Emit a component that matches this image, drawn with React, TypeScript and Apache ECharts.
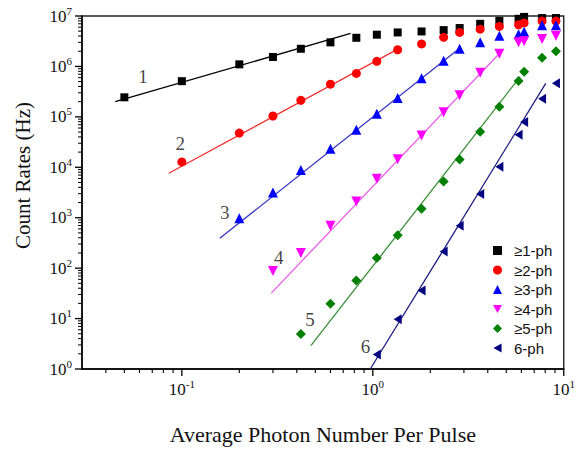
import React, { useEffect, useRef } from "react";
import * as echarts from "echarts";

// ---- data ----
const ph1X = [0.05, 0.1, 0.2, 0.3, 0.42, 0.6, 0.82, 1.05, 1.35, 1.8, 2.35, 2.85, 3.65, 4.6, 5.8, 6.2, 7.7, 9.1];
const ph1Y = [2.44e5, 5.1e5, 1.1e6, 1.54e6, 2.24e6, 3.0e6, 3.7e6, 4.26e6, 4.72e6, 4.94e6, 5.25e6, 5.77e6, 7.0e6, 8.0e6, 8.8e6, 9.6e6, 9.1e6, 9.1e6];

const ph2X = [0.1, 0.2, 0.3, 0.42, 0.6, 0.82, 1.05, 1.35, 1.8, 2.35, 2.85, 3.65, 4.6, 5.8, 6.2, 7.7, 9.1];
const ph2Y = [1.28e4, 4.77e4, 1.04e5, 2.13e5, 4.44e5, 7.25e5, 1.26e6, 2.14e6, 2.79e6, 3.78e6, 4.72e6, 5.48e6, 6.2e6, 6.7e6, 7.3e6, 7.94e6, 7.94e6];

const ph3X = [0.2, 0.3, 0.42, 0.6, 0.82, 1.05, 1.35, 1.8, 2.35, 2.85, 3.65, 4.6, 5.8, 6.2, 7.7, 9.1];
const ph3Y = [9.8e2, 3.18e3, 8.8e3, 2.32e4, 5.56e4, 1.15e5, 2.37e5, 5.8e5, 1.29e6, 2.23e6, 3.0e6, 4.05e6, 4.37e6, 4.85e6, 6.56e6, 6.56e6];

const ph4X = [0.3, 0.42, 0.6, 0.82, 1.05, 1.35, 1.8, 2.35, 2.85, 3.65, 4.6, 5.8, 6.2, 7.7, 9.1];
const ph4Y = [88, 200, 690, 2.1e3, 5.9e3, 1.44e4, 4.25e4, 1.24e5, 2.67e5, 7.5e5, 1.78e6, 3.0e6, 3.15e6, 3.5e6, 4.07e6];

const ph5X = [0.42, 0.6, 0.82, 1.05, 1.35, 1.8, 2.35, 2.85, 3.65, 4.6, 5.8, 6.2, 7.7, 9.1];
const ph5Y = [4.97, 19.7, 56.8, 158, 450, 1.5e3, 5.2e3, 1.42e4, 5.08e4, 1.58e5, 5.13e5, 7.85e5, 1.49e6, 2.01e6];

const ph6X = [1.05, 1.35, 1.8, 2.35, 2.85, 3.65, 4.6, 5.8, 6.2, 7.7, 9.1];
const ph6Y = [1.94, 9.7, 36, 215, 692, 2.95e3, 1.02e4, 4.44e4, 7.94e4, 2.29e5, 4.64e5];

// fit lines (two end points each)
const fit1X = [0.0448, 0.765];
const fit1Y = [2.0e5, 4.5e6];
const fit2X = [0.0854, 1.35];
const fit2Y = [7.6e3, 2.2e6];
const fit3X = [0.158, 2.85];
const fit3Y = [390, 2.3e6];
const fit4X = [0.294, 4.6];
const fit4Y = [32, 1.8e6];
const fit5X = [0.474, 5.9];
const fit5Y = [2.9, 6.2e5];
const fit6X = [0.97, 8.05];
const fit6Y = [1.0, 4.6e5];

// curve number annotations
const curveLabels = ["1", "2", "3", "4", "5", "6"];
const curveLabelX = [0.0626, 0.098, 0.168, 0.322, 0.469, 0.916];
const curveLabelY = [6.35e5, 2.91e4, 1.26e3, 165, 9.7, 2.8];

const seriesNames = ["≥1-ph", "≥2-ph", "≥3-ph", "≥4-ph", "≥5-ph", "6-ph"];

// axis ranges and ticks
const xMin = 0.03;
const xMax = 10;
const yMin = 1;
const yMax = 1e7;
const xMajorTicks = [0.1, 1, 10];
const yMajorTicks = [1, 10, 100, 1e3, 1e4, 1e5, 1e6, 1e7];
const minorMult = [2, 3, 4, 5, 6, 7, 8, 9];
const xDecades = [0.01, 0.1, 1];
const yDecades = [1, 10, 100, 1e3, 1e4, 1e5, 1e6];

const SERIF = "'Liberation Serif', 'Times New Roman', serif";
const SANS = "'Liberation Sans', Arial, sans-serif";

function pairs(xs: number[], ys: number[]) {
  return xs.map((x, i) => [x, ys[i]]);
}

function minorTicks(decades: number[], lo: number, hi: number) {
  const out: number[] = [];
  decades.forEach((d) => minorMult.forEach((m) => {
    const v = m * d;
    if (v > lo * 1.0001 && v < hi * 0.9999) out.push(v);
  }));
  return out;
}

const supFormatter = (v: number) => `{b|10}{s|${Math.round(Math.log10(v))}}`;
const supRich = {
  b: { fontFamily: SERIF, fontSize: 17, color: "#111", lineHeight: 22 },
  s: { fontFamily: SERIF, fontSize: 11, color: "#111", lineHeight: 11, verticalAlign: "top" },
};

export default function App() {
  const ref = useRef<HTMLDivElement>(null);
  useEffect(() => {
    document.body.style.margin = "0";
    if (!ref.current) return;
    const chart = echarts.init(ref.current, undefined, { renderer: "svg" });

    const markerDefs = [
      { x: ph1X, y: ph1Y, symbol: "rect", size: 8, color: "#000000" },
      { x: ph2X, y: ph2Y, symbol: "circle", size: 9, color: "#ff0000" },
      { x: ph3X, y: ph3Y, symbol: "triangle", size: 10, color: "#0000ff" },
      { x: ph4X, y: ph4Y, symbol: "path://M0,0 L10,0 L5,9 Z", size: 10, color: "#ff00ff" },
      { x: ph5X, y: ph5Y, symbol: "diamond", size: 10, color: "#008000" },
      { x: ph6X, y: ph6Y, symbol: "path://M0,5 L9,0 L9,10 Z", size: [8, 10], color: "#000080" },
    ];
    const fitDefs = [
      { x: fit1X, y: fit1Y, color: "#000000" },
      { x: fit2X, y: fit2Y, color: "#f03030" },
      { x: fit3X, y: fit3Y, color: "#3535c0" },
      { x: fit4X, y: fit4Y, color: "#e860e8" },
      { x: fit5X, y: fit5Y, color: "#3a8f3a" },
      { x: fit6X, y: fit6Y, color: "#1c1c80" },
    ];

    const series: any[] = [];

    // axis tick marks drawn through the axes' own scales
    const xTickData = [
      ...xMajorTicks.map((v) => [v, yMin, 7]),
      ...minorTicks(xDecades, xMin, xMax).map((v) => [v, yMin, 4]),
    ];
    const yTickData = [
      ...yMajorTicks.map((v) => [xMin, v, 7]),
      ...minorTicks(yDecades, yMin, yMax).map((v) => [xMin, v, 4]),
    ];
    series.push({
      type: "custom",
      name: "xticks",
      silent: true,
      clip: false,
      z: 5,
      encode: { x: 0, y: 1 },
      data: xTickData,
      renderItem: (params: any, api: any) => {
        const p = api.coord([api.value(0), api.value(1)]);
        const len = api.value(2);
        return {
          type: "line",
          shape: { x1: p[0], y1: p[1], x2: p[0], y2: p[1] + len },
          style: { stroke: "#000", lineWidth: len > 5 ? 1.3 : 1.1 },
        };
      },
    });
    series.push({
      type: "custom",
      name: "yticks",
      silent: true,
      clip: false,
      z: 5,
      encode: { x: 0, y: 1 },
      data: yTickData,
      renderItem: (params: any, api: any) => {
        const p = api.coord([api.value(0), api.value(1)]);
        const len = api.value(2);
        return {
          type: "line",
          shape: { x1: p[0], y1: p[1], x2: p[0] - len, y2: p[1] },
          style: { stroke: "#000", lineWidth: len > 5 ? 1.3 : 1.0 },
        };
      },
    });

    fitDefs.forEach((f, i) => {
      series.push({
        type: "line",
        name: "fit" + (i + 1),
        data: pairs(f.x, f.y),
        showSymbol: false,
        symbol: "none",
        lineStyle: { color: f.color, width: 1.3 },
        itemStyle: { color: f.color },
        silent: true,
        z: 2,
      });
    });
    markerDefs.forEach((m, i) => {
      series.push({
        type: "scatter",
        name: seriesNames[i],
        data: pairs(m.x, m.y),
        symbol: m.symbol,
        symbolSize: m.size,
        itemStyle: { color: m.color, opacity: 1 },
        z: 3,
      });
    });
    series.push({
      type: "scatter",
      name: "labels",
      data: curveLabelX.map((x, i) => ({ value: [x, curveLabelY[i]], name: curveLabels[i] })),
      symbol: "circle",
      symbolSize: 1,
      itemStyle: { color: "rgba(0,0,0,0)" },
      label: {
        show: true,
        position: "inside",
        formatter: (p: any) => p.name,
        fontFamily: SERIF,
        fontSize: 19,
        color: "#111",
      },
      silent: true,
      z: 4,
    });

    const option: any = {
      animation: false,
      backgroundColor: "#ffffff",
      grid: {
        left: 82,
        right: 10,
        top: 16,
        bottom: 74,
        show: true,
        borderColor: "#222",
        borderWidth: 1.4,
        backgroundColor: "transparent",
      },
      legend: {
        data: seriesNames,
        orient: "vertical",
        left: 488,
        top: 238,
        itemWidth: 9,
        itemHeight: 9,
        itemGap: 4.5,
        textStyle: {
          fontFamily: SANS,
          fontSize: 15,
          color: "#111",
          lineHeight: 15,
          padding: [0, 0, 0, 7],
        },
      },
      xAxis: {
        type: "log",
        logBase: 10,
        min: xMin,
        max: xMax,
        position: "bottom",
        name: "Average Photon Number Per Pulse",
        nameLocation: "middle",
        nameGap: 54,
        nameTextStyle: { fontFamily: SERIF, fontSize: 22, color: "#111" },
        axisLine: { onZero: false, lineStyle: { color: "#000", width: 1.5 } },
        axisTick: { show: false },
        splitLine: { show: false },
        axisLabel: { showMinLabel: false, margin: 9, formatter: supFormatter, rich: supRich },
      },
      yAxis: {
        type: "log",
        logBase: 10,
        min: yMin,
        max: yMax,
        position: "left",
        name: "Count Rates (Hz)",
        nameLocation: "middle",
        nameGap: 49,
        nameTextStyle: { fontFamily: SERIF, fontSize: 21, color: "#111", padding: [0, 0, 0, 34] },
        axisLine: { onZero: false, lineStyle: { color: "#000", width: 1.5 } },
        axisTick: { show: false },
        splitLine: { show: false },
        axisLabel: { margin: 10, formatter: supFormatter, rich: supRich },
      },
      series,
    };
    chart.setOption(option);
    return () => chart.dispose();
  }, []);
  return <div ref={ref} style={{ width: 578, height: 450 }} />;
}
